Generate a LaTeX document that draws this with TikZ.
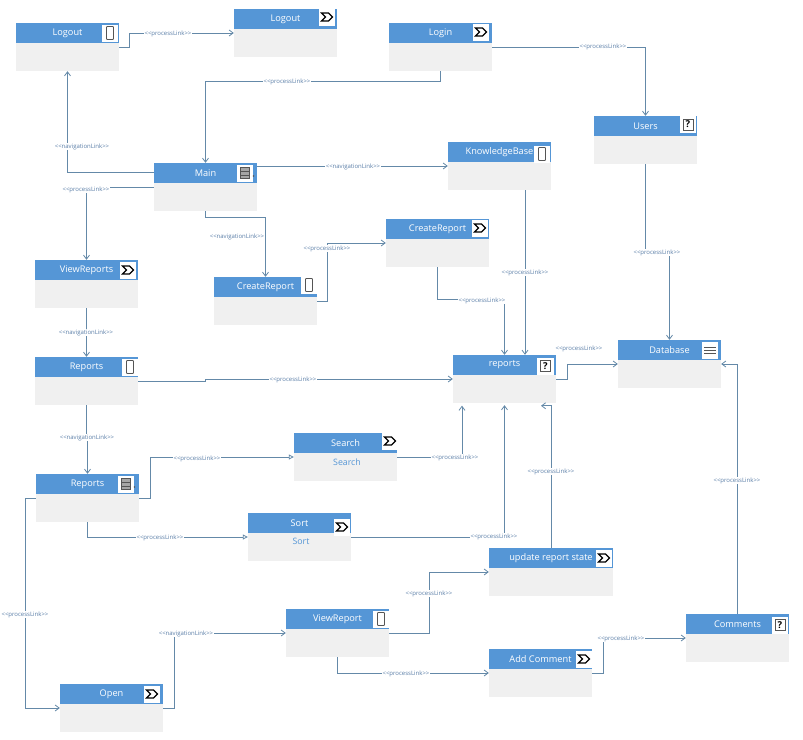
\documentclass[tikz,border=0pt]{standalone}
\usepackage{fontspec}
\usetikzlibrary{arrows.meta,calc}
\setmainfont{Open Sans}
\newfontfamily\labfont{Open Sans}
\definecolor{headblue}{HTML}{5596D6}
\definecolor{bodygray}{HTML}{F0F0F0}
\definecolor{linkblue}{HTML}{6489A8}
\definecolor{labblue}{HTML}{5B7FA8}
\definecolor{icondark}{HTML}{555555}
\tikzset{
  x=1pt,y=-1pt,
  bodybox/.style={fill=bodygray,draw=none,inner sep=0pt,minimum height=48pt},
  headbox/.style={fill=headblue,draw=none,inner sep=0pt,minimum height=20pt,text=white,anchor=north,font=\fontsize{9.2}{10}\selectfont},
  bodytext/.style={inner sep=0pt,text=headblue,font=\fontsize{8.8}{10}\selectfont},
  iconbg/.style={fill=white,draw=none},
  link/.style={draw=linkblue,line width=0.95pt,-{Straight Barb[length=4pt,width=6pt,line width=0.8pt]}},
  linkopen/.style={draw=linkblue,line width=0.95pt,-{Triangle[open,length=5pt,width=5pt,line width=0.8pt]}},
  lab/.style={fill=white,inner sep=0.5pt,yshift=-0.8pt,text=labblue,font=\labfont\fontsize{6}{7}\selectfont},
}
% name, left, top, width, label, icon, icon dx from right, icon dy from top
\newcommand{\umlbox}[8]{%
  \node[bodybox,minimum width=#4pt] (#1) at ({#2+#4/2},{#3+24}) {};
  \node[headbox,minimum width=#4pt] (#1-head) at (#1.north) {\raisebox{-1.1pt}{#5}};
  \coordinate (#1-icon) at ({#2+#4-#7},{#3+#8});
  \fill[iconbg] ($(#1-icon)$) ++(-8.5,-8.5) rectangle ++(16.5,17);
  \csname icon#6\endcsname{#1-icon}%
}
\newcommand{\icondevice}[1]{\draw[icondark,line width=0.9pt,rounded corners=0.7pt] (#1) ++(-3.5,-6.5) rectangle ++(7,13);}
\newcommand{\iconprocess}[1]{\draw[black,line width=1.15pt,fill=white,line join=miter] (#1) ++(-5.5,-4) -- ++(7,0) -- ++(4,4) -- ++(-4,4) -- ++(-7,0) -- ++(4,-4) -- cycle;}
\newcommand{\iconlist}[1]{\fill[gray!70] (#1) ++(-4.5,-5.5) rectangle ++(9,11); \draw[icondark,line width=0.6pt] (#1) ++(-4.5,-5.5) rectangle ++(9,11) (#1) ++(-4.5,-2) -- ++(9,0) (#1) ++(-4.5,2) -- ++(9,0);}
\newcommand{\iconquestion}[1]{\draw[icondark,line width=1pt,fill=white] (#1) ++(-5,-5.5) rectangle ++(10,11); \node[inner sep=0pt,text=black,font=\fontsize{9.5}{10}\selectfont\bfseries] at (#1) {?};}
\newcommand{\iconmenu}[1]{\draw[icondark,line width=0.9pt] (#1) ++(-6,-3) -- ++(12,0) (#1) ++(-6,0) -- ++(12,0) (#1) ++(-6,3) -- ++(12,0);}
\begin{document}
\begin{tikzpicture}
\path[use as bounding box,fill=white] (0,0) rectangle (803,739);
% boxes
\umlbox{logoutA}{16}{23}{103}{Logout}{device}{9}{10}
\umlbox{logoutB}{234}{9}{103}{Logout}{process}{10}{8}
\umlbox{login}{389}{23}{103}{Login}{process}{11}{9}
\umlbox{users}{594}{116}{103}{Users}{question}{9}{8.5}
\umlbox{main}{154}{163}{103}{Main}{list}{12}{10}
\umlbox{kb}{448}{142}{103}{KnowledgeBase}{device}{9}{12}
\umlbox{crP}{386}{219}{103}{CreateReport}{process}{9}{9}
\umlbox{crD}{214}{277}{103}{CreateReport}{device}{8}{8}
\umlbox{vrs}{35}{260}{103}{ViewReports}{process}{10}{10}
\umlbox{rep}{35}{357}{103}{Reports}{device}{8}{10}
\umlbox{reports}{453}{355}{103}{reports}{question}{10.5}{11}
\umlbox{db}{618}{340}{103}{Database}{menu}{11}{10}
\umlbox{search}{294}{433}{103}{Search}{process}{7}{8}
\umlbox{list}{36}{474}{103}{Reports}{list}{13}{10}
\umlbox{sort}{248}{513}{103}{Sort}{process}{9}{14}
\umlbox{update}{489}{548}{124}{update report state}{process}{9}{10}
\umlbox{view}{286}{609}{103}{ViewReport}{device}{8}{10}
\umlbox{add}{489}{649}{103}{Add Comment}{process}{8}{10}
\umlbox{comments}{686}{614}{103}{Comments}{question}{9}{11}
\umlbox{open}{60}{684}{103}{Open}{process}{11}{10}
\node[bodytext] (searchbody) at (347,462) {Search};
\node[bodytext] (sortbody) at (301,541) {Sort};
\fill[icondark] (253.5,176) circle (0.9);
\fill[icondark] (134.5,487) circle (0.9);
% connectors
\draw[link] (logoutA.east) -- ++(10,0) |- (logoutB.west);
\draw[link] ([yshift=15pt]main.west) -| (logoutA.south);
\draw[link] (login.south) -- ++(0,10) -| (main.north);
\draw[link] (login.east) -| (users.north);
\draw[link] (main.west) -| (vrs.north);
\draw[link] ([yshift=21pt]main.east) -- (kb.west);
\draw[link] (main.south) -- ++(0,6) -| (crD.north);
\draw[link] (crD.east) -- ++(10,0) |- (crP.west);
\draw[link] (crP.south) -- ++(0,32) -| (reports.north);
\draw[link] ([xshift=25.5pt]kb.south) -- ([xshift=20.5pt]reports.north);
\draw[link] (users.south) -- ++(0,88) -| (db.north);
\draw[link] (reports.east) -- ++(11,0) |- (db.west);
\draw[link] (vrs.south) -- (rep.north);
\draw[link] (rep.east) -- ++(67,0) |- (reports.west);
\draw[link] (rep.south) -- ++(0,35) -| (list.north);
\draw[linkopen] (list.east) -- ++(11,0) |- (search.west);
\draw[linkopen] (list.south) |- (sort.west);
\draw[link] (list.west) -- ++(-10,0) |- (open.west);
\draw[link] (search.east) -| ([xshift=-42.5pt,yshift=-2.5pt]reports.south);
\draw[link] (sort.east) -| ([yshift=-2pt]reports.south);
\draw[link] (update.north) -- ++(0,-142) -- ++(-10,0);
\draw[link] (open.east) -- ++(11,0) |- (view.west);
\draw[link] (view.east) -- ++(40,0) |- (update.west);
\draw[link] (view.south) |- (add.west);
\draw[link] (add.east) -- ++(11,0) |- (comments.west);
\draw[link] (comments.north) |- (db.east);
% labels
\node[lab] (l01) at (168,33) {<{}<processLink>{}>};
\node[lab] (l02) at (82,146) {<{}<navigationLink>{}>};
\node[lab] (l03) at (287,81) {<{}<processLink>{}>};
\node[lab] (l04) at (603,46) {<{}<processLink>{}>};
\node[lab] (l05) at (86,189) {<{}<processLink>{}>};
\node[lab] (l06) at (353,166) {<{}<navigationLink>{}>};
\node[lab] (l07) at (237,236) {<{}<navigationLink>{}>};
\node[lab] (l08) at (327,248) {<{}<processLink>{}>};
\node[lab] (l09) at (482,300) {<{}<processLink>{}>};
\node[lab] (l10) at (525,272) {<{}<processLink>{}>};
\node[lab] (l11) at (657,252) {<{}<processLink>{}>};
\node[lab] (l12) at (579,348) {<{}<processLink>{}>};
\node[lab] (l13) at (86,332) {<{}<navigationLink>{}>};
\node[lab] (l14) at (293,379) {<{}<processLink>{}>};
\node[lab] (l15) at (87,437) {<{}<navigationLink>{}>};
\node[lab] (l16) at (197,458) {<{}<processLink>{}>};
\node[lab] (l17) at (160,537) {<{}<processLink>{}>};
\node[lab] (l18) at (25,614) {<{}<processLink>{}>};
\node[lab] (l19) at (455,457) {<{}<processLink>{}>};
\node[lab] (l20) at (494,536) {<{}<processLink>{}>};
\node[lab] (l21) at (551,471) {<{}<processLink>{}>};
\node[lab] (l22) at (186,633) {<{}<navigationLink>{}>};
\node[lab] (l23) at (429,593) {<{}<processLink>{}>};
\node[lab] (l24) at (406,673) {<{}<processLink>{}>};
\node[lab] (l25) at (621,638) {<{}<processLink>{}>};
\node[lab] (l26) at (737,480) {<{}<processLink>{}>};
\end{tikzpicture}
\end{document}
